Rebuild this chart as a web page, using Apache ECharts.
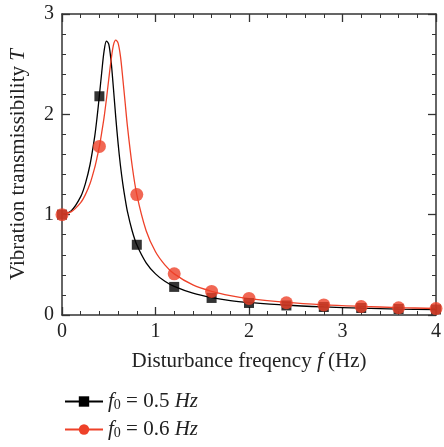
<!DOCTYPE html>
<html>
<head>
<meta charset="utf-8">
<script src="https://cdn.jsdelivr.net/npm/echarts@6/dist/echarts.min.js"></script>
<style>
html,body{margin:0;padding:0;background:#fff;}
#chart{width:444px;height:447px;}
</style>
</head>
<body>
<div id="chart"></div>
<script>
// Dense points
const curveX = [0, 0.1, 0.2, 0.25, 0.3, 0.35, 0.375, 0.4, 0.425, 0.45, 0.475, 0.5, 0.525, 0.55, 0.575, 0.6, 0.625, 0.65, 0.675, 0.7, 0.75, 0.8, 0.9, 1.0, 1.1, 1.2, 1.4, 1.6, 1.8, 2.0, 2.4, 2.8, 3.2, 3.6, 4.0];
const curveBlack = [1.0, 1.04, 1.18, 1.31, 1.50, 1.78, 1.97, 2.19, 2.42, 2.63, 2.73, 2.70, 2.53, 2.26, 1.97, 1.71, 1.49, 1.31, 1.16, 1.03, 0.84, 0.70, 0.52, 0.41, 0.336, 0.285, 0.217, 0.174, 0.144, 0.125, 0.097, 0.080, 0.068, 0.059, 0.053];
const curveRed = [1.0, 1.03, 1.12, 1.20, 1.31, 1.47, 1.57, 1.68, 1.82, 1.97, 2.15, 2.35, 2.54, 2.69, 2.74, 2.71, 2.58, 2.36, 2.12, 1.88, 1.49, 1.20, 0.84, 0.63, 0.50, 0.41, 0.30, 0.236, 0.193, 0.163, 0.125, 0.101, 0.086, 0.074, 0.065];
// Marker points
const markerX = [0, 0.4, 0.8, 1.2, 1.6, 2.0, 2.4, 2.8, 3.2, 3.6, 4.0];
const markerBlack = [1.0, 2.18, 0.70, 0.28, 0.17, 0.12, 0.095, 0.08, 0.07, 0.06, 0.055];
const markerRed = [1.0, 1.68, 1.20, 0.41, 0.235, 0.165, 0.122, 0.10, 0.085, 0.072, 0.064];
const seriesNames = ['{i|f}{s|0} = 0.5 {i|Hz}', '{i|f}{s|0} = 0.6 {i|Hz}'];
const xTicks = [0, 1, 2, 3, 4];
const yTicks = [0, 1, 2, 3];

const FONT = 'Liberation Serif';
const BLACK = '#000000';
const RED = '#ee4129';
const AX = '#333333';
const TXT = '#222222';

const pairs = (xs, ys) => xs.map((x, i) => [x, ys[i]]);

const axisCommon = {
  axisLine: { show: true, onZero: false, lineStyle: { color: AX, width: 1.5 } },
  axisTick: { show: true, inside: true, length: 8, lineStyle: { color: AX, width: 1.3 } },
  minorTick: { show: true, splitNumber: 5, length: 4, lineStyle: { color: AX, width: 1 } },
  splitLine: { show: false },
};

const legendText = {
  color: TXT, fontSize: 21, fontFamily: FONT,
  rich: {
    i: { fontStyle: 'italic', fontSize: 21, fontFamily: FONT, color: TXT },
    s: { fontSize: 14, fontFamily: FONT, color: TXT, verticalAlign: 'bottom', lineHeight: 12, padding: [8, 0, 0, 0] }
  }
};

const chart = echarts.init(document.getElementById('chart'));
chart.setOption({
  backgroundColor: '#fff',
  animation: false,
  textStyle: { fontFamily: FONT },
  grid: { left: 62, right: 5, top: 14, bottom: 132, containLabel: false },
  xAxis: [
    Object.assign({}, axisCommon, {
      type: 'value', min: 0, max: 4, interval: 1, position: 'bottom',
      axisLabel: { color: TXT, fontSize: 20, fontFamily: FONT, margin: 7,
        formatter: v => xTicks.includes(v) ? String(v) : '' },
      name: 'Disturbance freqency {i|f} (Hz)',
      nameLocation: 'middle', nameGap: 36,
      nameTextStyle: { color: TXT, fontSize: 21, fontFamily: FONT,
        rich: { i: { fontStyle: 'italic', fontSize: 21, fontFamily: FONT, color: TXT } } }
    }),
    Object.assign({}, axisCommon, {
      type: 'value', min: 0, max: 4, interval: 1, position: 'top',
      axisLabel: { show: false }
    })
  ],
  yAxis: [
    Object.assign({}, axisCommon, {
      type: 'value', min: 0, max: 3, interval: 1, position: 'left',
      axisLabel: { color: TXT, fontSize: 20, fontFamily: FONT, margin: 8,
        formatter: v => yTicks.includes(v) ? String(v) : '' },
      name: 'Vibration transmissibility {i|T}',
      nameLocation: 'middle', nameGap: 33,
      nameTextStyle: { color: TXT, fontSize: 21, fontFamily: FONT,
        rich: { i: { fontStyle: 'italic', fontSize: 21, fontFamily: FONT, color: TXT } } }
    }),
    Object.assign({}, axisCommon, {
      type: 'value', min: 0, max: 3, interval: 1, position: 'right',
      axisLabel: { show: false }
    })
  ],
  legend: [
    { data: [seriesNames[0]], left: 59, top: 385, itemWidth: 38, itemHeight: 13, itemGap: 8, textStyle: legendText },
    { data: [seriesNames[1]], left: 59, top: 413, itemWidth: 38, itemHeight: 13, itemGap: 8, textStyle: legendText }
  ],
  series: [
    {
      name: seriesNames[0], type: 'line', data: pairs(curveX, curveBlack),
      smooth: 0.3, showSymbol: false, symbol: 'rect', symbolSize: 10,
      color: BLACK, lineStyle: { color: BLACK, width: 1.3 }, itemStyle: { color: BLACK }, z: 2
    },
    {
      name: seriesNames[1], type: 'line', data: pairs(curveX, curveRed),
      smooth: 0.3, showSymbol: false, symbol: 'circle', symbolSize: 12,
      color: RED, lineStyle: { color: RED, width: 1.3 }, itemStyle: { color: RED }, z: 2
    },
    {
      name: 'mb', type: 'scatter', data: pairs(markerX, markerBlack),
      symbol: 'rect', symbolSize: 10, itemStyle: { color: BLACK }, z: 3
    },
    {
      name: 'mr', type: 'scatter', data: pairs(markerX, markerRed),
      symbol: 'circle', symbolSize: 13, itemStyle: { color: RED }, z: 4
    }
  ]
});
</script>
</body>
</html>
